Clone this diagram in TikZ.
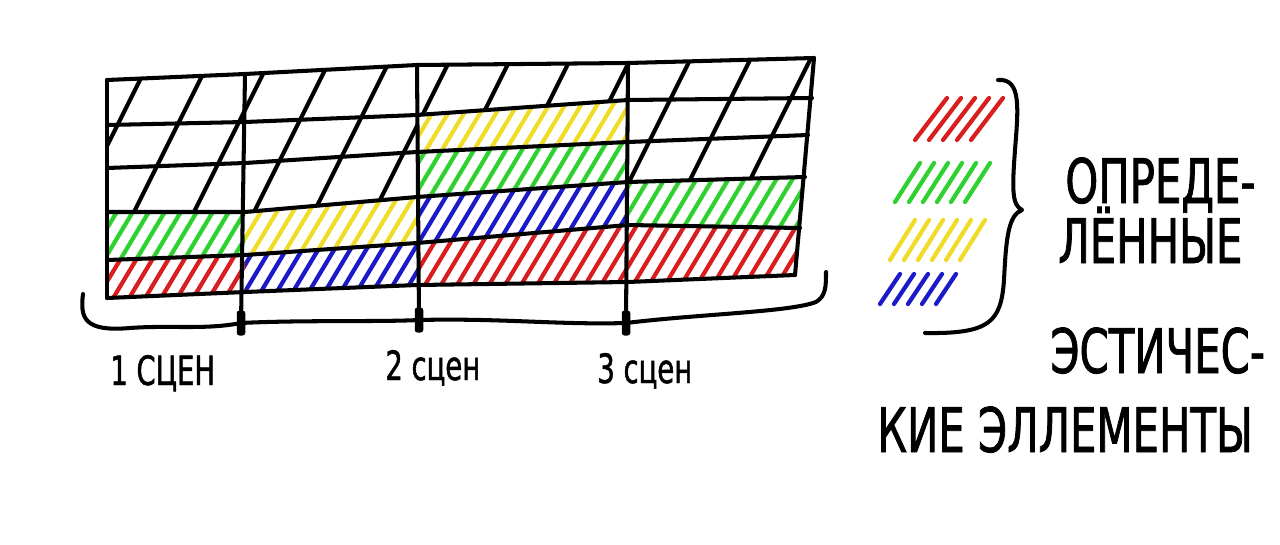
\documentclass[tikz,border=0pt]{standalone}
\usepackage{fontspec}
\newfontfamily\handfont[FakeStretch=0.68, FakeBold=1.2]{DejaVu Sans}
\usetikzlibrary{positioning}
\definecolor{sketchRed}{HTML}{D81E1E}
\definecolor{sketchGreen}{HTML}{2ED12E}
\definecolor{sketchYellow}{HTML}{F0DC28}
\definecolor{sketchBlue}{HTML}{1A1AC8}

\begin{document}
\begin{tikzpicture}[x=0.02cm, y=-0.02cm,
  gridline/.style={line width=2.3pt, line cap=round, line join=round},
  hatchline/.style={line width=2.4pt, line cap=round},
  bigtext/.style={font=\handfont\fontsize{35}{40}\selectfont, anchor=base west, inner sep=0pt},
  scenetext/.style={font=\handfont\fontsize{23}{26}\selectfont, anchor=base west, inner sep=0pt},
  marker/.style={fill=black, rounded corners=1.5pt, minimum width=0.17cm, minimum height=0.5cm, inner sep=0pt}
]
\useasboundingbox (0,0) rectangle (1280,544);

% grid points: column boundary, line
\foreach \j/\ya/\yb/\yc/\yd/\ye/\xe in {0/80/74/65/63/58/814, 1/125/122/115/100/98/812,
    2/168/163/152/142/135/808, 3/212/212/197/182/177/805, 4/260/255/243/225/228/800,
    5/298/292/285/282/275/795} {
  \coordinate (p0\j) at (107,\ya);
  \coordinate (p1\j) at (245,\yb);
  \coordinate (p2\j) at (417,\yc);
  \coordinate (p3\j) at (628,\yd);
  \coordinate (p4\j) at (\xe,\ye);
}

% coloured cells
\foreach \c/\r/\col in {0/4/sketchRed, 0/3/sketchGreen, 1/4/sketchBlue, 1/3/sketchYellow,
    2/4/sketchRed, 2/3/sketchBlue, 2/2/sketchGreen, 2/1/sketchYellow, 3/4/sketchRed, 3/3/sketchGreen} {
  \pgfmathtruncatemacro\cn{\c+1}
  \pgfmathtruncatemacro\rn{\r+1}
  \begin{scope}
    \clip (p\c\r) -- (p\cn\r) -- (p\cn\rn) -- (p\c\rn) -- cycle;
    \foreach \x in {-60,-44,...,820}
      \draw[hatchline, \col] (\x,320) -- ++(168,-280);
  \end{scope}
}

% black cells
\begin{scope}
  \clip (p00) -- (p10) -- (p20) -- (p30) -- (p40) -- (p43) -- (p33) -- (p31)
    -- (p21) -- (p23) -- (p13) -- (p03) -- cycle;
  \foreach \x in {-40,20,...,820}
    \draw[hatchline] (\x,320) -- ++(140,-280);
\end{scope}

% grid
\foreach \j in {0,...,5}
  \draw[gridline] (p0\j) -- (p1\j) -- (p2\j) -- (p3\j) -- (p4\j);
\draw[gridline] (p00) -- (p05);
\draw[gridline] (p40) -- (p45);

% scene markers
\node[marker] (m1) at (241,323) {};
\node[marker] (m2) at (419,320) {};
\node[marker] (m3) at (626,323) {};
\draw[gridline] (p10) -- (m1);
\draw[gridline] (p20) -- (m2);
\draw[gridline] (p30) -- (m3);
\draw[gridline] (83,294) .. controls (80,318) and (84,332) .. (130,328)
  .. controls (170,325) and (205,330) .. (m1.center)
  .. controls (300,320) and (380,322) .. (m2.center)
  .. controls (500,318) and (560,325) .. (m3.center)
  .. controls (700,314) and (790,312) .. (816,302)
  .. controls (826,296) and (826,286) .. (826,272);

\node[scenetext] (s1) at (110,385) {1 СЦЕН};
\node[scenetext] (s2) at (385,380) {2 сцен};
\node[scenetext] (s3) at (597,383) {3 сцен};

% legend
\foreach \x/\yb/\yt/\dx/\col/\n in {915/140/98/32/sketchRed/5, 895/202/163/25/sketchGreen/6,
    890/260/220/25/sketchYellow/6, 880/304/274/20/sketchBlue/5} {
  \foreach \k in {1,...,\n}
    \draw[hatchline, \col] (\x+\k*14-14,\yb) -- ++(\dx,\yt-\yb);
}
\draw[gridline] (998,80) .. controls (1022,78) and (1018,110) .. (1015,150)
  .. controls (1012,190) and (1012,205) .. (1022,210)
  .. controls (1008,215) and (1006,240) .. (1004,280)
  .. controls (1001,322) and (990,334) .. (925,333);

\node[bigtext] (t1) at (1065,203) {ОПРЕДЕ-};
\node[bigtext] (t2) at (1058,263) {ЛЁННЫЕ};
\node[bigtext] (t3) at (1050,373) {ЭСТИЧЕС-};
\node[bigtext] (t4) at (877,452) {КИЕ ЭЛЛЕМЕНТЫ};
\end{tikzpicture}
\end{document}
